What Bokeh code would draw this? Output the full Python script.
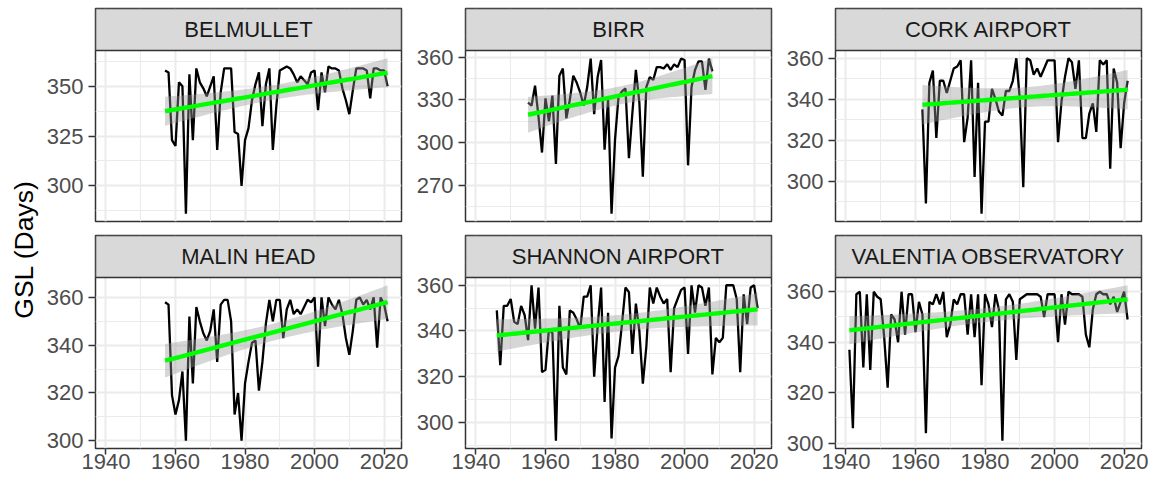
import numpy as np
from bokeh.plotting import figure
from bokeh.layouts import row, column
from bokeh.models import Range1d, FixedTicker, LinearAxis, Grid
from bokeh.core.properties import value
from bokeh.embed import file_html
from bokeh.resources import INLINE

# ---------------- data ----------------
stations = ["BELMULLET", "BIRR", "CORK AIRPORT", "MALIN HEAD",
            "SHANNON AIRPORT", "VALENTIA OBSERVATORY"]

belmullet_start = 1957
belmullet_gsl = [358, 357, 323, 320, 352, 350, 286, 356, 323, 359,
                 352, 349, 345, 350, 355, 318, 347, 359, 359, 359,
                 327, 326, 300, 323, 329, 343, 351, 357, 330, 351,
                 359, 318, 340, 358, 359, 360, 359, 356, 352, 355,
                 353, 351, 357, 358, 338, 357, 347, 360, 359, 359,
                 358, 349, 343, 336, 348, 359, 359, 359, 358, 344,
                 359, 359, 358, 358, 350]

birr_start = 1955
birr_gsl = [328, 326, 340, 318, 293, 331, 315, 333, 285, 347,
            352, 317, 330, 347, 342, 335, 326, 339, 359, 320,
            346, 358, 295, 330, 250, 302, 332, 336, 338, 289,
            321, 351, 328, 276, 339, 346, 344, 353, 353, 352,
            355, 351, 355, 353, 359, 358, 284, 339, 351, 357,
            357, 337, 359, 350]

cork_start = 1962
cork_gsl = [335, 289, 348, 354, 321, 349, 349, 343, 349, 355,
            356, 359, 319, 331, 359, 302, 348, 284, 329, 329,
            345, 340, 334, 332, 344, 344, 349, 360, 340, 297,
            360, 359, 352, 355, 351, 355, 359, 359, 359, 319,
            339, 351, 360, 358, 345, 359, 321, 321, 333, 338,
            324, 359, 357, 359, 306, 355, 348, 316, 338, 349]

malin_start = 1957
malin_gsl = [358, 357, 319, 311, 317, 329, 300, 352, 324, 356,
             350, 345, 342, 346, 355, 333, 357, 359, 359, 350,
             311, 320, 300, 324, 333, 341, 342, 321, 333, 349,
             359, 350, 359, 359, 343, 355, 359, 353, 355, 353,
             356, 359, 358, 360, 331, 360, 348, 360, 357, 355,
             359, 353, 343, 336, 346, 359, 360, 357, 359, 355,
             360, 339, 360, 357, 350]

shannon_start = 1946
shannon_gsl = [349, 325, 351, 351, 354, 344, 343, 351, 347, 336,
               360, 341, 359, 322, 323, 341, 339, 292, 351, 324,
               321, 349, 348, 345, 341, 355, 355, 360, 320, 342,
               359, 309, 348, 293, 324, 329, 343, 359, 357, 330,
               352, 340, 317, 333, 359, 352, 359, 355, 352, 354,
               322, 350, 354, 358, 359, 330, 360, 348, 360, 359,
               351, 359, 321, 337, 335, 337, 360, 360, 360, 354,
               322, 356, 343, 359, 360, 350]

valentia_start = 1941
valentia_gsl = [337, 306, 359, 360, 330, 359, 329, 360, 358, 357,
                342, 322, 351, 349, 340, 360, 343, 359, 359, 344,
                356, 351, 304, 356, 355, 359, 355, 360, 342, 347,
                357, 355, 359, 359, 343, 359, 342, 359, 323, 359,
                355, 346, 359, 353, 301, 357, 359, 356, 333, 357,
                358, 359, 359, 359, 359, 358, 350, 359, 359, 359,
                340, 359, 347, 360, 359, 359, 359, 358, 343, 338,
                353, 359, 360, 359, 359, 355, 358, 352, 356, 360,
                349]

starts = [belmullet_start, birr_start, cork_start, malin_start, shannon_start, valentia_start]
series = [belmullet_gsl, birr_gsl, cork_gsl, malin_gsl, shannon_gsl, valentia_gsl]

x_ticks = [1940, 1960, 1980, 2000, 2020]
x_minor = [1930, 1950, 1970, 1990, 2010, 2030]
y_ticks = [[300, 325, 350], [270, 300, 330, 360], [300, 320, 340, 360],
           [300, 320, 340, 360], [300, 320, 340, 360], [300, 320, 340, 360]]

FONT_NAME = "Liberation Sans"
FONT = value(FONT_NAME)
GRID = "#EBEBEB"
DARK = "#333333"
TXT = "22px"

all_years = np.concatenate([np.arange(s, s + len(v)) for s, v in zip(starts, series)])
x0, x1 = all_years.min(), all_years.max()
xpad = 0.05 * (x1 - x0)
x_range = Range1d(x0 - xpad, x1 + xpad)


def t975(df):
    z = 1.959964
    return z + (z**3 + z) / (4 * df) + (5 * z**5 + 16 * z**3 + 3 * z) / (96 * df**2)


LB = 52          # left border (axis area)
FRAME_W = 306
STRIP_PX = 42


def style_axis(ax):
    ax.axis_line_color = None
    ax.major_tick_line_color = DARK
    ax.major_tick_line_width = 1.5
    ax.major_tick_out = 7
    ax.major_tick_in = 0
    ax.minor_tick_line_color = None
    ax.minor_tick_out = 0
    ax.major_label_text_font = FONT_NAME
    ax.major_label_text_font_size = TXT
    ax.major_label_text_color = "#4D4D4D"


def make_panel(i, rb, bottom):
    start, vals = starts[i], np.array(series[i], dtype=float)
    years = np.arange(start, start + len(vals))
    n = len(vals)
    b, a = np.polyfit(years, vals, 1)
    resid = vals - (a + b * years)
    s2 = np.sum(resid**2) / (n - 2)
    xbar = years.mean()
    sxx = np.sum((years - xbar) ** 2)
    xs = np.linspace(years.min(), years.max(), 80)
    fit = a + b * xs
    se = np.sqrt(s2 * (1.0 / n + (xs - xbar) ** 2 / sxx))
    tq = t975(n - 2)
    lo, hi = fit - tq * se, fit + tq * se
    ymin = min(vals.min(), lo.min())
    ymax = max(vals.max(), hi.max())
    pad = 0.05 * (ymax - ymin)
    y_lo, y_hi = ymin - pad, ymax + pad

    frame_h = 213
    panel_px = frame_h - STRIP_PX
    strip_top = y_hi + (y_hi - y_lo) * STRIP_PX / panel_px

    ticks = y_ticks[i]
    step = ticks[1] - ticks[0]
    minor = [t - step / 2 for t in ticks] + [ticks[-1] + step / 2]

    if bottom:
        tb, bb = 1, 32
    else:
        tb, bb = 8, 13
    p = figure(frame_width=FRAME_W, frame_height=frame_h, x_range=x_range,
               y_range=Range1d(y_lo, strip_top),
               x_axis_type=None, toolbar_location=None, output_backend="svg",
               min_border_left=LB, min_border_right=rb, min_border_top=tb,
               min_border_bottom=bb, background_fill_color="white",
               border_fill_color="white", outline_line_color=DARK,
               outline_line_width=1.5)
    xt = FixedTicker(ticks=x_ticks, minor_ticks=x_minor)
    g = Grid(dimension=0, ticker=xt, grid_line_color=GRID, grid_line_width=2,
             minor_grid_line_color=GRID, minor_grid_line_width=1.1)
    p.add_layout(g)
    if bottom:
        ax = LinearAxis(ticker=xt)
        style_axis(ax)
        ax.major_tick_out = 6
        ax.major_label_standoff = -1
        ax.major_label_text_line_height = 1.0
        p.add_layout(ax, "below")

    yt = FixedTicker(ticks=ticks, minor_ticks=minor)
    for ax in p.yaxis:
        ax.ticker = yt
        style_axis(ax)
        ax.major_label_standoff = 5
    for gr in p.ygrid:
        gr.grid_line_color = GRID
        gr.grid_line_width = 2
        gr.minor_grid_line_color = GRID
        gr.minor_grid_line_width = 1.1

    p.line(years, vals, line_color="black", line_width=2.3)
    p.varea(x=xs, y1=lo, y2=hi, fill_color="#999999", fill_alpha=0.4)
    p.line(xs, fit, line_color="#00FF00", line_width=4.4)

    # facet strip (top of the frame)
    p.quad(left=[x_range.start], right=[x_range.end], bottom=[y_hi], top=[strip_top],
           fill_color="#D9D9D9", line_color=DARK, line_width=1.5)
    p.text(x=[(x_range.start + x_range.end) / 2], y=[(y_hi + strip_top) / 2],
           text=[stations[i]], text_align="center", text_baseline="middle",
           text_font=FONT, text_font_size=TXT, text_color="#1A1A1A")
    return p


rbs = [12, 12, 9]

panels_top = [make_panel(j, rbs[j], False) for j in range(3)]
panels_bot = [make_panel(3 + j, rbs[j], True) for j in range(3)]

TOTAL_H = 470
yl = figure(width=43, height=TOTAL_H, x_range=Range1d(0, 43), y_range=Range1d(0, TOTAL_H),
            x_axis_type=None, y_axis_type=None, toolbar_location=None,
            output_backend="svg", min_border=0, outline_line_color=None)
yl.text(x=[23.3], y=[TOTAL_H - 249], text=["GSL (Days)"], angle=np.pi / 2,
        text_align="center", text_baseline="middle", text_font=FONT,
        text_font_size="26.5px", text_color="black")

layout = row(yl, column(row(*panels_top), row(*panels_bot)))

open("out.html", "w").write(file_html(layout, INLINE))
